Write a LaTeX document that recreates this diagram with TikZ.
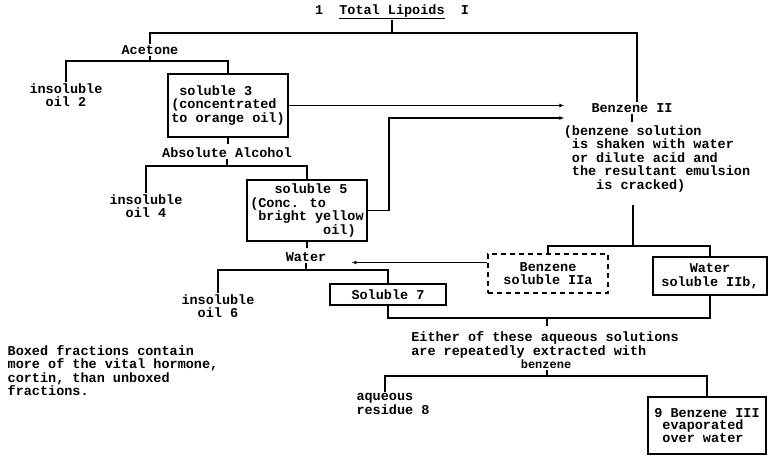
\documentclass[tikz,border=0pt]{standalone}
\usepackage{fontspec}
\newfontfamily\typewfont{Liberation Mono}
\newcommand\typew{\typewfont\bfseries\fontsize{13.5pt}{13.5pt}\selectfont}
\usetikzlibrary{arrows.meta}

\begin{document}
\begin{tikzpicture}[
    x=1pt, y=-1pt,
    lbl/.style={font=\typew, inner sep=1pt, align=center},
    frac/.style={lbl, draw, line width=1.6pt, align=left, inner sep=0pt},
    dfrac/.style={lbl, draw, line width=1.4pt, dash pattern=on 5pt off 4pt},
    line/.style={draw=black, line width=1.5pt},
    arr/.style={line, -{Latex[length=5pt, width=4pt]}}
]
\useasboundingbox (0,0) rectangle (768,459);

\node[lbl] (tot) at (392,12) {1~~\underline{Total Lipoids}~~I};
\node[lbl] (acet) at (150,50) {Acetone};
\node[lbl] (ins2) at (66,95) {insoluble\\oil 2};
\node[frac, minimum width=120pt, minimum height=63pt] (sol3) at (228,105.5) {~soluble 3\\(concentrated\\to orange oil)};
\node[lbl] (abs) at (227,153) {Absolute Alcohol};
\node[lbl] (ins4) at (146,206) {insoluble\\oil 4};
\node[frac, minimum width=120pt, minimum height=61pt] (sol5) at (307,210.5) {~~~soluble 5\\(Conc. to\\~bright yellow\\~~~~~~~~~oil)};
\node[lbl] (water) at (306,257) {Water};
\node[lbl] (ins6) at (218,306) {insoluble\\oil 6};
\node[frac, minimum width=116pt, minimum height=21pt] (sol7) at (388,294.5) {Soluble 7};

\node[lbl] (benz) at (632,108) {Benzene II};
\node[lbl, align=left] (shake) at (657,159) {(benzene solution\\~is shaken with water\\~or dilute acid and\\~the resultant emulsion\\~~~~is cracked)};
\node[dfrac, minimum width=120pt, minimum height=39pt] (b2a) at (548,273.5) {Benzene\\soluble IIa};
\node[frac, align=center, minimum width=114pt, minimum height=38pt] (b2b) at (710,276) {Water\\soluble IIb,};

\node[lbl, align=left, font=\typewfont\bfseries\fontsize{13.5pt}{11.5pt}\selectfont] (either) at (545,345) {Either of these aqueous solutions\\are repeatedly extracted with};
\node[lbl, font=\typewfont\bfseries\fontsize{12pt}{12pt}\selectfont] (bzw) at (546,364) {benzene};
\node[lbl, align=left, font=\typewfont\bfseries\fontsize{13.5pt}{12pt}\selectfont] (aq8) at (393,404) {aqueous\\residue 8};
\node[frac, minimum width=118pt, minimum height=57pt, font=\typewfont\bfseries\fontsize{13.5pt}{12.5pt}\selectfont] (b9) at (707,425.5) {9 Benzene III\\~evaporated\\~over water};
\node[lbl, align=left] (note) at (113,370.5) {Boxed fractions contain\\more of the vital hormone,\\cortin, than unboxed\\fractions.};

\coordinate (t1) at (392,33);
\draw[line] (tot.south) -- (t1);
\draw[line] (acet.north) |- (t1) -| ([xshift=5pt]benz.north);

\draw[line] (acet.south) -- ++(0,5) coordinate (a1);
\draw[line] (ins2.north) |- (a1) -| (sol3.north);
\draw[line] (sol3.south) -- ++(0,6);
\draw[line] (abs.south) -- ++(0,7) coordinate (b1);
\draw[line] (ins4.north) |- (b1) -| (sol5.north);
\draw[line] (sol5.south) -- ++(0,6);
\draw[line] (water.south) -- ++(0,7) coordinate (w1);
\draw[line] (ins6.north) |- (w1) -| (sol7.north);

\coordinate (bin) at ([xshift=-26pt]benz.west);
\draw[arr] (sol3.east) -- (sol3.east -| bin);
\draw[arr] (sol5.east) -- ++(21,0) |- ([yshift=-10pt]bin);

\draw[line] (benz.south) -- ++(0,8);
\coordinate (m0) at (633,246);
\draw[line] (shake.south -| m0) ++(0,12) -- (m0);
\draw[line] (b2a.north) |- (m0) -| (b2b.north);

\path ([yshift=11pt]b2a.west) coordinate (aOut);
\coordinate (wIn) at ([xshift=24pt]water.east);
\draw[arr] (aOut) -- (aOut -| wIn);

\coordinate (m1) at (547,318);
\draw[line] (sol7.south) |- (m1) -| (b2b.south);
\draw[line] (m1) -- ++(0,8);

\coordinate (m2) at (547,376);
\draw[line] (bzw.south -| m2) -- (m2);
\draw[line] ([xshift=-8pt]aq8.north) |- (m2) -| (b9.north);
\end{tikzpicture}
\end{document}
